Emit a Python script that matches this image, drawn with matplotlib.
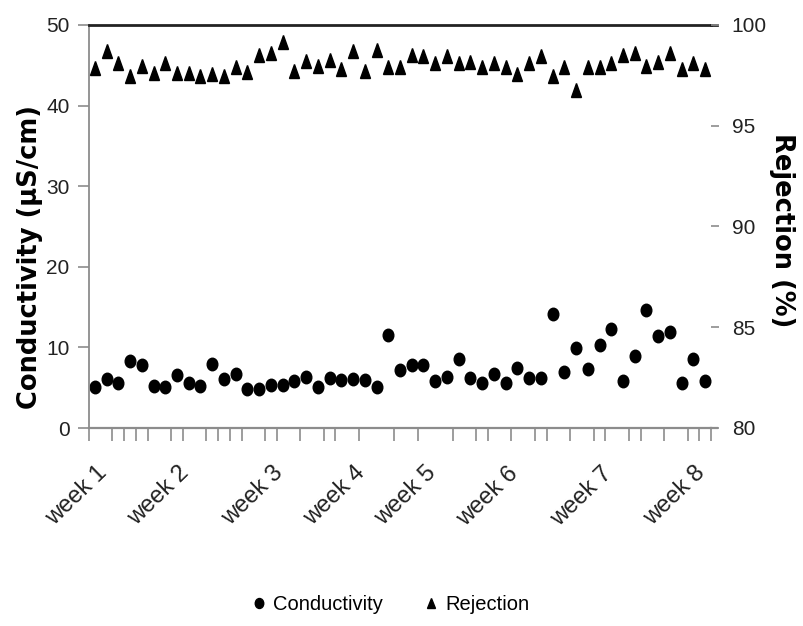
import numpy as np
import matplotlib.pyplot as plt
from matplotlib.markers import MarkerStyle
from matplotlib.transforms import Affine2D

# daily samples over eight weeks
conductivity = [5.05, 6.04, 5.55, 8.3, 7.8, 5.25, 5.05, 6.6, 5.55, 5.2,
                7.9, 6.05, 6.7, 4.84, 4.84, 5.3, 5.3, 5.87, 6.3, 5.05,
                6.25, 5.95, 6.04, 5.95, 5.05, 11.6, 7.2, 7.8, 7.8, 5.83,
                6.3, 8.5, 6.25, 5.55, 6.7, 5.6, 7.4, 6.25, 6.25, 14.2,
                7.0, 9.9, 7.3, 10.3, 12.25, 5.83, 8.93, 14.7, 11.4, 11.9,
                5.55, 8.5, 5.83]
rejection = [97.85, 98.70, 98.10, 97.47, 97.98, 97.63, 98.10, 97.63, 97.63, 97.47,
             97.58, 97.47, 97.93, 97.65, 98.51, 98.63, 99.17, 97.72, 98.19, 97.99,
             98.24, 97.83, 98.70, 97.71, 98.78, 97.90, 97.90, 98.49, 98.45, 98.10,
             98.45, 98.11, 98.18, 97.91, 98.11, 97.91, 97.57, 98.10, 98.45, 97.45,
             97.91, 96.79, 97.91, 97.91, 98.10, 98.51, 98.63, 97.97, 98.16, 98.63,
             97.83, 98.10, 97.83]

# category boundaries that carry a tick mark
tick_bounds = [0, 2, 3, 4, 5, 7, 8, 10, 11, 12, 13, 15, 16, 18, 20, 21, 23, 26,
               28, 31, 33, 34, 36, 38, 39, 41, 43, 44, 46, 47, 49, 51, 52, 53]
week_labels = ["week 1", "week 2", "week 3", "week 4",
               "week 5", "week 6", "week 7", "week 8"]
week_pos = [0, 7, 15, 22, 28, 35, 43, 51]

narrow = ['Liberation Sans', 'DejaVu Sans']
grey = '#8c8c8c'

x = np.arange(len(conductivity)) + 0.5

fig = plt.figure(figsize=(8.04, 6.26), dpi=100)
ax = fig.add_axes([89 / 804, 1 - 428 / 626, (711 - 89) / 804, (428 - 25) / 626])
ax2 = ax.twinx()

circle = MarkerStyle('o', transform=Affine2D().scale(0.85, 1.0))
tri = MarkerStyle('^', transform=Affine2D().scale(0.78, 1.0))

h1, = ax.plot(x, conductivity, linestyle='none', marker=circle, ms=9,
              color='black', label='Conductivity')
h2, = ax2.plot(x, rejection, linestyle='none', marker=tri, ms=9.8,
               color='black', label='Rejection')

ax.set_xlim(0, len(conductivity))
ax.set_ylim(0, 50)
ax2.set_ylim(80, 100)

ax.set_yticks(np.arange(0, 51, 10))
ax2.set_yticks(np.arange(80, 101, 5))
ax.set_xticks(tick_bounds)
ax.set_xticklabels([])

for a in (ax, ax2):
    for s in a.spines.values():
        s.set_visible(False)
ax.spines['left'].set_visible(True)
ax.spines['left'].set_color(grey)
ax.spines['left'].set_linewidth(1.3)
ax.spines['bottom'].set_visible(True)
ax.spines['bottom'].set_color(grey)
ax.spines['bottom'].set_linewidth(1.6)
ax.spines['top'].set_visible(True)
ax.spines['top'].set_color('#222222')
ax.spines['top'].set_linewidth(2.0)

ax.tick_params(axis='y', direction='out', length=8, width=1.2, color=grey,
               labelsize=15, pad=6)
ax.tick_params(axis='x', direction='out', length=9, width=1.2, color=grey)
ax2.tick_params(axis='y', direction='out', length=6, width=1.2, color=grey,
                labelsize=15, pad=9)
for lab in ax.get_yticklabels() + ax2.get_yticklabels():
    lab.set_family(narrow)
    lab.set_color('#222222')

# bottom and top lines run out to the right-hand tick marks
ax.plot([1.0, 1.0 + 6 / 622], [0, 0], transform=ax.transAxes, color=grey,
        lw=1.6, clip_on=False)
ax.plot([1.0, 1.0 + 6 / 622], [1, 1], transform=ax.transAxes, color='#222222',
        lw=2.0, clip_on=False)

for lbl, p in zip(week_labels, week_pos):
    ax.text(p + 0.6, -0.085, lbl, transform=ax.get_xaxis_transform(),
            rotation=44, rotation_mode='anchor', ha='right', va='top',
            fontsize=17, family=narrow, color='#222222')

fig.text(30 / 804, 1 - 257 / 626, 'Conductivity (µS/cm)', rotation=90,
         ha='center', va='center', fontsize=18.5, fontweight='bold')
fig.text(782 / 804, 1 - 230 / 626, 'Rejection (%)', rotation=-90,
         ha='center', va='center', fontsize=18.5, fontweight='bold')

leg = fig.legend([h1, h2], ['Conductivity', 'Rejection'], loc='center',
                 bbox_to_anchor=(390 / 804, 1 - 605 / 626), ncol=2,
                 frameon=False, handlelength=0.8, handletextpad=0.3,
                 columnspacing=2.0, markerscale=0.8,
                 prop={'family': narrow, 'size': 14.5})

fig.savefig('out.png', dpi=100)
